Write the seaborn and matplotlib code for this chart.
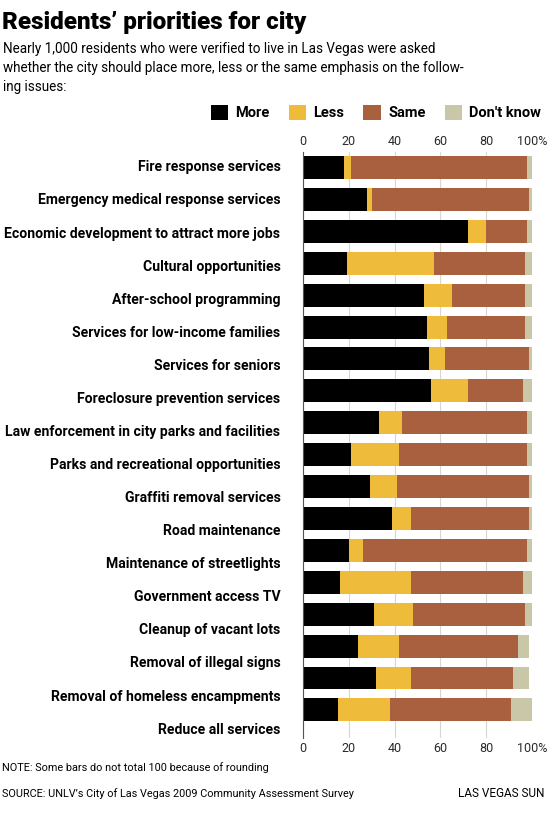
import numpy as np
import pandas as pd
import matplotlib
matplotlib.use('Agg')
import matplotlib.pyplot as plt
import seaborn as sns
from matplotlib.patches import Patch

# data (percent)
issues = [
    'Fire response services',
    'Emergency medical response services',
    'Economic development to attract more jobs',
    'Cultural opportunities',
    'After-school programming',
    'Services for low-income families',
    'Services for seniors',
    'Foreclosure prevention services',
    'Law enforcement in city parks and facilities',
    'Parks and recreational opportunities',
    'Graffiti removal services',
    'Road maintenance',
    'Maintenance of streetlights',
    'Government access TV',
    'Cleanup of vacant lots',
    'Removal of illegal signs',
    'Removal of homeless encampments',
    'Reduce all services',
]
more = [18, 28, 72, 19, 53, 54, 55, 56, 33, 21, 29, 39, 20, 16, 31, 24, 32, 15]
less = [3, 2, 8, 38, 12, 9, 7, 16, 10, 21, 12, 8, 6, 31, 17, 18, 15, 23]
same = [77, 69, 18, 40, 32, 34, 37, 24, 55, 56, 58, 52, 72, 49, 49, 52, 45, 53]
dont_know = [2, 1, 2, 3, 3, 3, 2, 4, 2, 2, 1, 1, 2, 4, 3, 5, 7, 9]

series = ['More', 'Less', 'Same', "Don't know"]
colors = ['#000000', '#efbb3b', '#a8603e', '#c9c7a7']
ticks = [0, 20, 40, 60, 80, 100]
tick_labels = ['0', '20', '40', '60', '80', '100%']

df = pd.DataFrame({'issue': issues, 'More': more, 'Less': less,
                   'Same': same, "Don't know": dont_know})
cum = df[series].cumsum(axis=1)
cum['issue'] = df['issue']

sns.set_style('white')
plt.rcParams['font.family'] = ['Roboto', 'DejaVu Sans']
plt.rcParams['text.color'] = 'black'
plt.rcParams['ytick.color'] = 'black'

fig = plt.figure(figsize=(5.47, 8.14), dpi=100)
ax = fig.add_axes([0.5545, 0.0934, 0.4176, 0.72])

# stacked bars: draw widest cumulative first
for s, c in reversed(list(zip(series, colors))):
    sns.barplot(data=cum, x=s, y='issue', color=c, width=0.72,
                orient='h', ax=ax, saturation=1, linewidth=0)

ax.set_xlim(0, 100)
ax.set_ylim(17.88, -0.49)
ax.set_xlabel('')
ax.set_ylabel('')

# category labels (slightly wider spacing than bars, as in the original)
label_pos = [-0.05 + i * 1.0365 for i in range(len(issues))]
ax.set_yticks(label_pos)
ax.set_yticklabels(issues, fontsize=10, fontweight='bold')
ax.tick_params(axis='y', length=0, pad=16.5)

ax.set_xticks(ticks)
ax.set_xticklabels(tick_labels, fontsize=9, color='#2a2a2a')
ax.tick_params(axis='x', length=0, labeltop=True, pad=3)

ax.grid(axis='x', color='#d6d6d6', linewidth=0.8)
ax.set_axisbelow(True)
ax.get_xgridlines()[-1].set_visible(False)
for side in ['top', 'right', 'bottom']:
    ax.spines[side].set_visible(False)
ax.spines['left'].set_color('#555555')
ax.spines['left'].set_linewidth(0.8)

# title and notes
title = fig.text(0.004, 0.987, 'Residents\u2019 priorities for city', fontsize=19,
                 fontweight='black', va='top', ha='left')
sub = fig.text(0.006, 0.948,
               'Nearly 1,000 residents who were verified to live in Las Vegas were asked\n'
               'whether the city should place more, less or the same emphasis on the follow-\n'
               'ing issues:',
               fontsize=10, va='top', ha='left', linespacing=1.45)

handles = [Patch(facecolor=c, edgecolor='none') for c in colors]
leg = fig.legend(handles, series, ncol=4, loc='center right',
                 bbox_to_anchor=(1.0, 0.8615), frameon=False,
                 prop={'weight': 'bold', 'size': 10.5},
                 handlelength=1.2, handleheight=1.2, handletextpad=0.5,
                 columnspacing=1.3, borderaxespad=0)

note = fig.text(0.004, 0.057, 'NOTE: Some bars do not total 100 because of rounding',
                fontsize=8.5, va='center', ha='left')
src = fig.text(0.004, 0.025,
               'SOURCE: UNLV\u2019s City of Las Vegas 2009 Community Assessment Survey',
               fontsize=8.5, va='center', ha='left')
fig.text(0.996, 0.025, 'LAS VEGAS SUN', fontsize=8.5, va='center', ha='right')


# scale a few texts so their widths match the reference
def fit_width(t, target_px):
    r = fig.canvas.get_renderer()
    w = t.get_window_extent(r).width
    t.set_fontsize(t.get_fontsize() * target_px / w)


fig.canvas.draw()
fit_width(title, 306)
fit_width(sub, 462)
fit_width(src, 347)
note.set_fontsize(src.get_fontsize())

ylabels = ax.get_yticklabels()
longest = max(ylabels, key=lambda t: len(t.get_text()))
fit_width(longest, 274)
for t in ylabels:
    t.set_fontsize(longest.get_fontsize())

fig.savefig('out.png', dpi=100)
